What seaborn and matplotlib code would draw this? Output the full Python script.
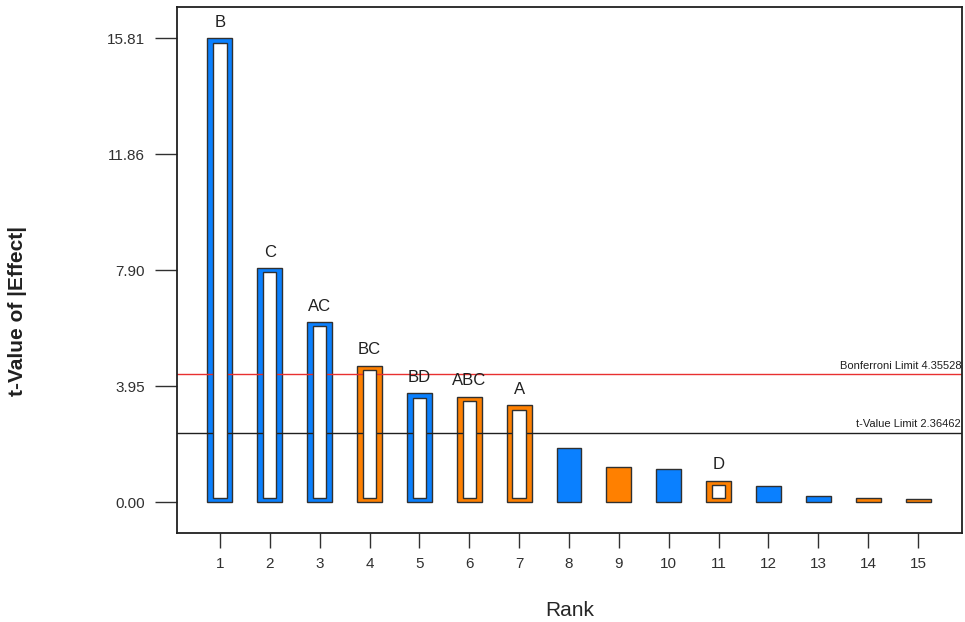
import matplotlib
matplotlib.use('Agg')
import matplotlib.pyplot as plt
import pandas as pd
import seaborn as sns

# values
ranks = list(range(1, 16))
t_values = [15.81, 7.98, 6.14, 4.65, 3.71, 3.59, 3.29, 1.85, 1.19, 1.14, 0.73, 0.55, 0.22, 0.13, 0.09]
terms = ['B', 'C', 'AC', 'BC', 'BD', 'ABC', 'A', '', '', '', 'D', '', '', '', '']
signs = ['Positive', 'Positive', 'Positive', 'Negative', 'Positive', 'Negative', 'Negative',
         'Positive', 'Negative', 'Positive', 'Negative', 'Positive', 'Positive', 'Negative', 'Negative']
y_ticks = [0.00, 3.95, 7.90, 11.86, 15.81]
bonferroni = 4.35528
t_limit = 2.36462

sns.set_style('white')
plt.rcParams['font.family'] = ['Liberation Sans', 'DejaVu Sans']

df = pd.DataFrame({'rank': ranks, 't': t_values, 'term': terms, 'sign': signs})
palette = {'Positive': '#0A80FF', 'Negative': '#FF8000'}

fig = plt.figure(figsize=(9.65, 6.22), dpi=100)
ax = fig.add_axes([177 / 965, 89 / 622, 785 / 965, 526 / 622])

sns.barplot(data=df, x='rank', y='t', hue='sign', palette=palette, native_scale=True,
            width=0.5, saturation=1, edgecolor='#303030', linewidth=1.0, legend=False, ax=ax)

# white core for the terms in the model
inset = 0.15
model = df[df['term'] != '']
ax.bar(model['rank'], model['t'] - 2 * inset, bottom=inset, width=0.27,
       color='white', edgecolor='#303030', linewidth=1.0, zorder=3)

for _, row in model.iterrows():
    ax.annotate(row['term'], (row['rank'], row['t']), xytext=(0, 6), textcoords='offset points',
                ha='center', va='bottom', fontsize=12, color='#202020')

ax.axhline(bonferroni, color='#E83030', linewidth=1.0, zorder=1)
ax.axhline(t_limit, color='#202020', linewidth=1.0, zorder=1)
ax.text(0.999, bonferroni + 0.12, f'Bonferroni Limit {bonferroni}', transform=ax.get_yaxis_transform(),
        ha='right', va='bottom', fontsize=8, color='#202020')
ax.text(0.999, t_limit + 0.12, f't-Value Limit {t_limit}', transform=ax.get_yaxis_transform(),
        ha='right', va='bottom', fontsize=8, color='#202020')

ax.set_xlim(0.14, 15.88)
ax.set_ylim(-1.056, 16.87)
ax.set_xticks(ranks)
ax.set_xticklabels([str(r) for r in ranks])
ax.set_yticks(y_ticks)
ax.set_yticklabels([f'{v:.2f}' for v in y_ticks])
ax.tick_params(axis='y', length=16, width=1.0, pad=7, labelsize=11, colors='#303030', left=True)
ax.tick_params(axis='x', length=11, width=1.0, pad=6, labelsize=11, colors='#303030', bottom=True)

for s in ax.spines.values():
    s.set_color('#202020')
    s.set_linewidth(1.3)

ax.set_xlabel('Rank', fontsize=15, labelpad=22)
ax.set_ylabel('')
fig.text(18 / 965, 1 - 311 / 622, 't-Value of |Effect|', rotation=90, ha='center', va='center',
         fontsize=15, fontweight='bold', color='#202020')

plt.savefig('out.png', dpi=100)
